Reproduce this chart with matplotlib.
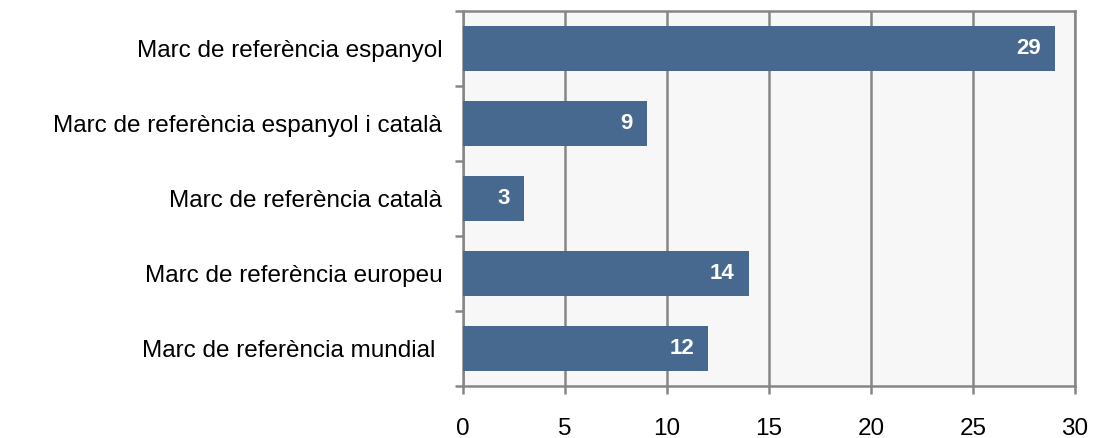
import matplotlib.pyplot as plt
import matplotlib.ticker as mticker

# categories top to bottom
categories = [
    'Marc de referència espanyol',
    'Marc de referència espanyol i català',
    'Marc de referència català',
    'Marc de referència europeu',
    'Marc de referència mundial ',
]
values = [29, 9, 3, 14, 12]

plt.rcParams['font.family'] = ['Liberation Sans', 'DejaVu Sans']

fig = plt.figure(figsize=(10.94, 4.38), dpi=100)
ax = fig.add_axes([0.4232, 0.1187, 0.5594, 0.8562])

grey = '#868686'
ax.set_facecolor('#f7f7f7')

pos = list(range(len(categories)))[::-1]
ax.barh(pos, values, height=0.6, color='#48698f', zorder=3)

for p, v in zip(pos, values):
    ax.annotate(str(v), xy=(v, p), xytext=(-10, 0), textcoords='offset points',
                ha='right', va='center', color='white',
                fontsize=16, fontweight='bold', zorder=4)

ax.set_xlim(0, 30)
ax.set_ylim(-0.5, len(categories) - 0.5)

ax.xaxis.set_major_locator(mticker.MultipleLocator(5))
ax.grid(axis='x', color=grey, linewidth=1.8, zorder=1)

ax.set_yticks(pos)
ax.set_yticklabels(categories, fontsize=17.5)
ax.set_yticks([i - 0.5 for i in range(len(categories) + 1)], minor=True)
ax.tick_params(axis='y', which='major', length=0, pad=15)
ax.tick_params(axis='y', which='minor', length=6, width=1.8, color=grey, direction='out')
ax.tick_params(axis='x', which='major', length=6, width=1.8, color=grey,
               direction='out', labelsize=17.5, pad=17)

for side in ['left', 'bottom', 'right', 'top']:
    ax.spines[side].set_color(grey)
    ax.spines[side].set_linewidth(1.8)

fig.savefig('out.png', dpi=100)
